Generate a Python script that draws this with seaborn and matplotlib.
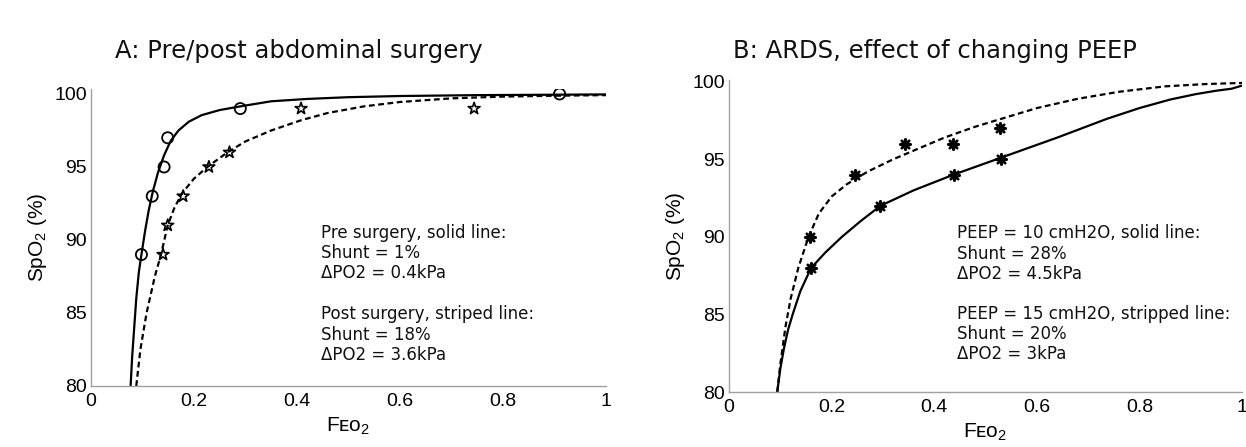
import matplotlib
matplotlib.use("Agg")
import matplotlib.pyplot as plt
import pandas as pd
import seaborn as sns

# ---------------- Panel A: pre/post abdominal surgery ----------------
pre_obs_x = [0.098, 0.119, 0.142, 0.149, 0.290, 0.910]
pre_obs_y = [89, 93, 95, 97, 99, 100]
post_obs_x = [0.140, 0.149, 0.179, 0.229, 0.269, 0.408, 0.744]
post_obs_y = [89, 91, 93, 95, 96, 99, 99]

pre_fit_x = [0.077, 0.080, 0.084, 0.088, 0.093, 0.098, 0.105, 0.112, 0.120,
             0.130, 0.142, 0.155, 0.170, 0.190, 0.215, 0.250, 0.290, 0.350,
             0.420, 0.500, 0.600, 0.750, 0.900, 1.000]
pre_fit_y = [80.0, 82.0, 84.0, 86.0, 87.8, 89.0, 90.6, 92.0, 93.3,
             94.6, 95.8, 96.8, 97.5, 98.1, 98.55, 98.9, 99.15, 99.5,
             99.66, 99.78, 99.86, 99.92, 99.95, 99.97]
post_fit_x = [0.088, 0.096, 0.108, 0.124, 0.136, 0.149, 0.162, 0.177, 0.200,
              0.226, 0.265, 0.300, 0.350, 0.408, 0.460, 0.530, 0.600, 0.700,
              0.800, 0.900, 1.000]
post_fit_y = [80.0, 82.5, 85.0, 87.5, 89.0, 91.0, 92.2, 93.2, 94.2,
              95.0, 96.0, 96.75, 97.5, 98.2, 98.7, 99.15, 99.45, 99.7,
              99.82, 99.88, 99.92]

# ---------------- Panel B: ARDS, effect of changing PEEP ----------------
peep10_obs_x = [0.160, 0.295, 0.439, 0.530]
peep10_obs_y = [88, 92, 94, 95]
peep15_obs_x = [0.158, 0.245, 0.343, 0.437, 0.528]
peep15_obs_y = [90, 94, 96, 96, 97]

peep10_fit_x = [0.094, 0.100, 0.107, 0.115, 0.124, 0.139, 0.160, 0.188, 0.220,
                0.256, 0.295, 0.360, 0.437, 0.530, 0.640, 0.736, 0.800, 0.860,
                0.910, 0.950, 0.980, 1.000]
peep10_fit_y = [80.0, 81.5, 82.8, 84.0, 85.0, 86.5, 88.0, 89.0, 90.0,
                91.0, 92.0, 93.0, 94.0, 95.1, 96.4, 97.6, 98.3, 98.85,
                99.2, 99.42, 99.55, 99.75]
peep15_fit_x = [0.094, 0.100, 0.110, 0.120, 0.135, 0.155, 0.175, 0.200, 0.230,
                0.270, 0.320, 0.370, 0.420, 0.480, 0.530, 0.600, 0.680, 0.760,
                0.850, 0.930, 1.000]
peep15_fit_y = [80.0, 81.8, 84.2, 86.0, 88.0, 90.0, 91.5, 92.6, 93.4,
                94.2, 95.0, 95.7, 96.4, 97.1, 97.6, 98.3, 98.9, 99.35,
                99.7, 99.85, 99.92]

x_ticks = [0, 0.2, 0.4, 0.6, 0.8, 1.0]
x_tick_labels = ["0", "0.2", "0.4", "0.6", "0.8", "1"]
y_ticks = [80, 85, 90, 95, 100]
y_tick_labels = ["80", "85", "90", "95", "100"]

title_a = "A: Pre/post abdominal surgery"
title_b = "B: ARDS, effect of changing PEEP"
notes_a = ["Pre surgery, solid line:", "Shunt = 1%", "\u0394PO2 = 0.4kPa",
           "Post surgery, striped line:", "Shunt = 18%", "\u0394PO2 = 3.6kPa"]
notes_b = ["PEEP = 10 cmH2O, solid line:", "Shunt = 28%", "\u0394PO2 = 4.5kPa",
           "PEEP = 15 cmH2O, stripped line:", "Shunt = 20%", "\u0394PO2 = 3kPa"]
notes_a_y = [90.15, 88.78, 87.37, 84.58, 83.17, 81.76]
notes_b_y = [89.92, 88.59, 87.30, 84.70, 83.41, 82.12]

sns.set_theme(style="white")
plt.rcParams["font.family"] = ["Liberation Sans", "DejaVu Sans"]
plt.rcParams["mathtext.fontset"] = "custom"
plt.rcParams["mathtext.rm"] = "Liberation Sans"
plt.rcParams["mathtext.it"] = "Liberation Sans:italic"
plt.rcParams["mathtext.bf"] = "Liberation Sans:bold"

fig = plt.figure(figsize=(12.46, 4.47), dpi=100)
fig.patch.set_facecolor("white")
axA = fig.add_axes([0.0730, 0.1365, 0.4133, 0.6647])
axB = fig.add_axes([0.5851, 0.1230, 0.4117, 0.6977])

GRAY = "#a0a0a0"
DASH = (0, (2.6, 1.6))


def style_axes(ax, ytop):
    ax.set_facecolor("white")
    ax.set_xlim(0, 1)
    ax.set_ylim(80, ytop)
    ax.set_xticks(x_ticks)
    ax.set_xticklabels(x_tick_labels)
    ax.set_yticks(y_ticks)
    ax.set_yticklabels(y_tick_labels)
    for s in ["top", "right"]:
        ax.spines[s].set_visible(False)
    for s in ["left", "bottom"]:
        ax.spines[s].set_color(GRAY)
        ax.spines[s].set_linewidth(1.0)
    ax.tick_params(axis="both", direction="in", length=5, width=1,
                   color=GRAY, labelcolor="black", labelsize=14)
    ax.tick_params(axis="x", pad=5)
    ax.tick_params(axis="y", pad=3)
    ax.set_xlabel("F\u1d07\u1d0f$_2$", fontsize=15, color="black", labelpad=4)
    ax.set_ylabel("SpO$_2$ (%)", fontsize=15, color="black", labelpad=4)
    ax.grid(False)


# Panel A
sns.lineplot(x=pre_fit_x, y=pre_fit_y, sort=False, estimator=None,
             color="black", linewidth=1.6, ax=axA)
sns.lineplot(x=post_fit_x, y=post_fit_y, sort=False, estimator=None,
             color="black", linewidth=1.6, linestyle=DASH, ax=axA)
sns.scatterplot(x=pre_obs_x, y=pre_obs_y, marker="o", s=64,
                facecolor="none", edgecolor="black", linewidth=1.3,
                ax=axA, zorder=3)
sns.scatterplot(x=post_obs_x, y=post_obs_y, marker="*", s=80,
                facecolor="none", edgecolor="black", linewidth=1.2,
                ax=axA, zorder=3)
style_axes(axA, 100.35)

# Panel B
sns.lineplot(x=peep10_fit_x, y=peep10_fit_y, sort=False, estimator=None,
             color="black", linewidth=1.6, ax=axB)
sns.lineplot(x=peep15_fit_x, y=peep15_fit_y, sort=False, estimator=None,
             color="black", linewidth=1.6, linestyle=DASH, ax=axB)
sns.scatterplot(x=peep10_obs_x + peep15_obs_x, y=peep10_obs_y + peep15_obs_y,
                marker=(8, 2, 0), s=55, color="black", edgecolor="black",
                linewidth=1.8, ax=axB, zorder=3)
style_axes(axB, 100.1)

for ax, lines, ys, x0 in [(axA, notes_a, notes_a_y, 0.447),
                          (axB, notes_b, notes_b_y, 0.444)]:
    for t, yy in zip(lines, ys):
        ax.text(x0, yy, t, fontsize=12, family=["DejaVu Sans"],
                color="#111111", ha="left", va="baseline")

fig.text(115 / 1246, 1 - 58 / 447, title_a, fontsize=17.5,
         family=["DejaVu Sans"], color="#111111", ha="left", va="baseline")
fig.text(733 / 1246, 1 - 58 / 447, title_b, fontsize=17.5,
         family=["DejaVu Sans"], color="#111111", ha="left", va="baseline")

fig.savefig("out.png", dpi=100, facecolor="white")
